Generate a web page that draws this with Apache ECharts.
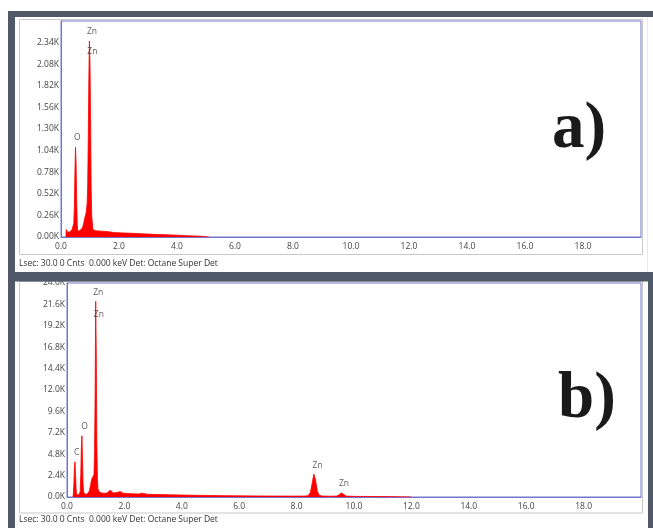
<!DOCTYPE html>
<html>
<head>
<meta charset="utf-8">
<script src="https://cdn.jsdelivr.net/npm/echarts@6/dist/echarts.min.js"></script>
<style>
html,body{margin:0;padding:0;background:#fff;}
#c{width:653px;height:528px;}
</style>
</head>
<body>
<div id="c"></div>
<script>
// ---- Panel a) spectrum (energy keV, counts)
var energyA = [0.17,0.18,0.20,0.22,0.26,0.30,0.34,0.38,0.42,0.44,0.46,0.48,0.50,0.52,0.54,0.56,0.58,0.62,0.66,0.70,0.74,0.78,0.82,0.86,0.88,0.90,0.92,0.94,0.96,0.98,1.00,1.02,1.04,1.06,1.10,1.20,1.40,1.60,1.80,2.00,2.40,2.80,3.20,3.60,4.00,4.40,4.80,5.00,5.10];
var countsA = [0,90,100,60,70,60,80,90,110,160,350,780,1080,900,450,150,70,50,80,70,110,160,230,280,330,400,600,1200,1900,2360,2100,1400,600,250,90,75,70,65,55,50,45,38,32,28,22,15,10,3,0];
// ---- Panel b) spectrum
var energyB = [0.21,0.22,0.24,0.26,0.28,0.30,0.32,0.34,0.38,0.42,0.46,0.48,0.50,0.52,0.54,0.56,0.58,0.62,0.66,0.70,0.74,0.78,0.82,0.86,0.90,0.94,0.96,0.98,1.00,1.02,1.04,1.06,1.08,1.12,1.20,1.30,1.40,1.46,1.50,1.54,1.62,1.74,1.80,1.86,1.94,2.10,2.30,2.50,2.58,2.62,2.66,2.80,3.20,3.60,4.00,4.50,5.00,5.50,6.00,6.50,7.00,7.50,8.00,8.30,8.40,8.48,8.54,8.60,8.66,8.72,8.78,8.90,9.20,9.40,9.48,9.56,9.64,9.72,10.0,11.0,12.0];
var countsB = [0,300,1500,3400,3960,2400,700,250,200,250,600,2500,5500,6870,4500,1500,500,300,280,350,450,700,1300,2000,1800,2500,5000,11600,21960,16000,6000,2000,900,600,450,420,450,650,760,600,450,500,640,620,450,380,360,330,420,500,400,300,270,240,220,190,170,150,130,120,110,105,100,110,150,500,1500,2570,1900,700,200,100,90,110,250,450,300,100,70,50,0];
// ---- Peak labels
var peakNamesA = ['Zn','Zn','O'];
var peakXA = [1.07,1.08,0.56];
var peakYA = [2470,2230,1200];
var peakNamesB = ['Zn','Zn','O','C','Zn','Zn'];
var peakXB = [1.09,1.11,0.61,0.34,8.73,9.65];
var peakYB = [22940,20490,7925,4980,3475,1517];
// ---- Tick labels
var xTickLabels = ['0.0','2.0','4.0','6.0','8.0','10.0','12.0','14.0','16.0','18.0'];
var yTickLabelsA = ['0.00K','0.26K','0.52K','0.78K','1.04K','1.30K','1.56K','1.82K','2.08K','2.34K'];
var yTickLabelsB = ['0.0K','2.4K','4.8K','7.2K','9.6K','12.0K','14.4K','16.8K','19.2K','21.6K','24.0K'];
var footerText = 'Lsec: 30.0 0 Cnts  0.000 keV Det: Octane Super Det';

function zip(a,b){var r=[];for(var i=0;i<a.length;i++)r.push([a[i],b[i]]);return r;}
function zip3(n,x,y){var r=[];for(var i=0;i<n.length;i++)r.push({name:n[i],value:[x[i],y[i]]});return r;}

var FONT = '"Open Sans", sans-serif';
var blue = '#7474cc';
var band = '#4f5968';
var txt = '#444';

function xAxisCfg(idx){
  return {type:'value',gridIndex:idx,min:0,max:20,interval:2,
    axisLine:{show:true,lineStyle:{color:blue,width:1}},
    axisTick:{show:false},splitLine:{show:false},
    axisLabel:{show:true,showMaxLabel:false,color:txt,fontFamily:FONT,fontSize:8.5,margin:5,
      formatter:function(v){var i=Math.round(v/2);return xTickLabels[i]||'';}}};
}
function yAxisCfg(idx,max,interval,labels,showMax){
  return {type:'value',gridIndex:idx,min:0,max:max,interval:interval,
    axisLine:{show:true,lineStyle:{color:blue,width:1}},
    axisTick:{show:false},splitLine:{show:false},
    axisLabel:{show:true,showMaxLabel:showMax,showMinLabel:true,color:txt,fontFamily:FONT,fontSize:8.5,margin:2,
      formatter:function(v){var i=Math.round(v/interval);return labels[i]||'';}}};
}
function specSeries(idx,data){
  return {type:'line',xAxisIndex:idx,yAxisIndex:idx,data:data,showSymbol:false,symbol:'none',
    lineStyle:{color:'#ff0000',width:0.8},areaStyle:{color:'#ff0000',opacity:1},
    itemStyle:{color:'#ff0000'},clip:true,animation:false,z:2};
}
function labelSeries(idx,data){
  return {type:'scatter',xAxisIndex:idx,yAxisIndex:idx,data:data,symbolSize:1,
    itemStyle:{color:'rgba(0,0,0,0)'},animation:false,z:5,
    label:{show:true,position:'inside',formatter:'{b}',color:'#333',fontFamily:FONT,fontSize:8.5}};
}

var chart = echarts.init(document.getElementById('c'),null,{renderer:'canvas'});
chart.setOption({
  animation:false,
  backgroundColor:'#ffffff',
  grid:[
    {left:61,top:21,width:580,height:216,show:true,borderColor:blue,borderWidth:1,backgroundColor:'#fff',containLabel:false},
    {left:67,top:283,width:574,height:214,show:true,borderColor:blue,borderWidth:1,backgroundColor:'#fff',containLabel:false}
  ],
  xAxis:[xAxisCfg(0),xAxisCfg(1)],
  yAxis:[yAxisCfg(0,2600,260,yTickLabelsA,false),yAxisCfg(1,24000,2400,yTickLabelsB,true)],
  series:[
    specSeries(0,zip(energyA,countsA)),
    specSeries(1,zip(energyB,countsB)),
    labelSeries(0,zip3(peakNamesA,peakXA,peakYA)),
    labelSeries(1,zip3(peakNamesB,peakXB,peakYB))
  ],
  graphic:[
    // inner light frames
    {type:'rect',shape:{x:19.5,y:19.5,width:623,height:235},style:{fill:null,stroke:'#c8c8c8',lineWidth:1},z:-1,silent:true},
    {type:'rect',shape:{x:19.5,y:281.5,width:623,height:231.5},style:{fill:null,stroke:'#c8c8c8',lineWidth:1},z:-1,silent:true},
    {type:'rect',shape:{x:647.5,y:17,width:0.5,height:255},style:{fill:'#d4d4d4'},z:50,silent:true},
    // dark frame bands
    {type:'rect',shape:{x:8,y:11,width:645,height:6},style:{fill:band},z:100,silent:true},
    {type:'rect',shape:{x:8,y:11,width:7,height:517},style:{fill:band},z:100,silent:true},
    {type:'rect',shape:{x:8,y:272,width:645,height:9.5},style:{fill:band},z:100,silent:true},
    {type:'rect',shape:{x:648,y:272,width:5,height:256},style:{fill:band},z:100,silent:true},
    // footers
    {type:'text',x:19,y:264,style:{text:footerText,fill:'#333',font:'8.5px "Open Sans", sans-serif',textVerticalAlign:'middle'},z:60,silent:true},
    {type:'text',x:19,y:520,style:{text:footerText,fill:'#333',font:'8.5px "Open Sans", sans-serif',textVerticalAlign:'middle'},z:60,silent:true},
    // panel letters
    {type:'text',x:552,y:98,style:{text:'a)',fill:'#1a1a1a',font:'bold 65px "Liberation Serif", "Times New Roman", serif',textVerticalAlign:'alphabetic'},z:60,silent:true},
    {type:'text',x:558,y:368,style:{text:'b)',fill:'#1a1a1a',font:'bold 65px "Liberation Serif", "Times New Roman", serif',textVerticalAlign:'alphabetic'},z:60,silent:true}
  ]
});
</script>
</body>
</html>
